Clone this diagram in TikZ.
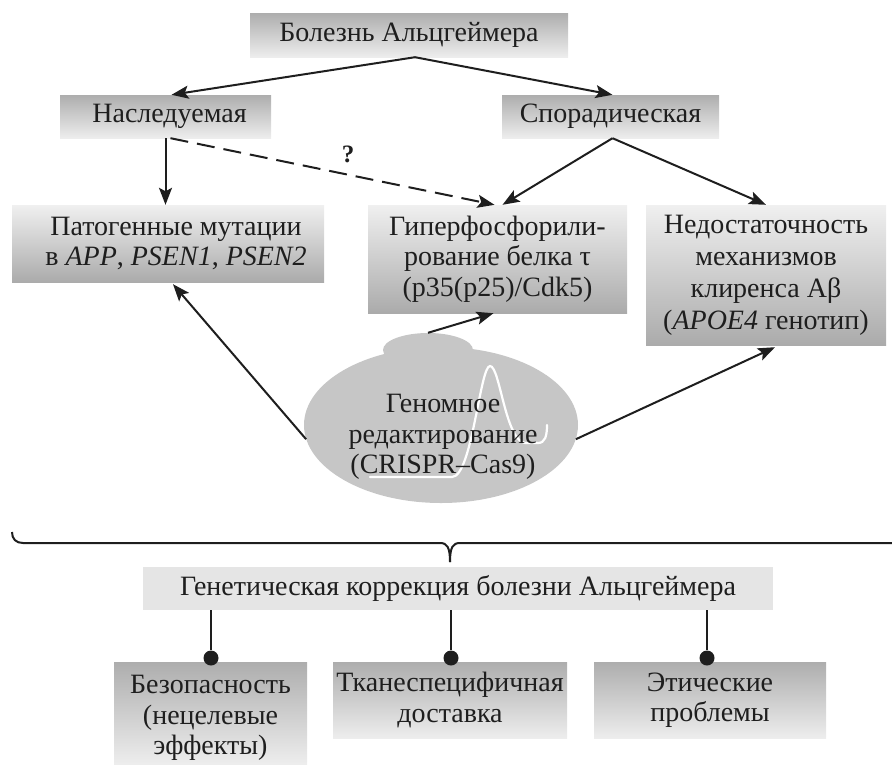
\documentclass[tikz,border=0pt]{standalone}
\usepackage{fontspec}
\setmainfont{Liberation Serif}
\usetikzlibrary{arrows.meta,shapes.geometric}
\definecolor{ink}{HTML}{1E1E1E}
\definecolor{blobc}{HTML}{C6C6C6}
\begin{document}
\begin{tikzpicture}[x=1pt,y=-1pt,
  txt/.style={font=\fontsize{28}{30.5}\selectfont, text=ink, align=center},
  box/.style={txt, rectangle, inner sep=0pt},
  darktop/.style={box, top color=gray!64, bottom color=gray!14},
  darkbot/.style={box, top color=gray!12, bottom color=gray!66},
  flatbox/.style={box, fill=gray!20},
  arr/.style={line width=2pt, draw=ink, -{Stealth[length=17pt,width=13pt,inset=3.5pt]}},
  dasharr/.style={arr, dash pattern=on 18pt off 9pt},
  conn/.style={line width=2pt, draw=ink},
  dot/.style={circle, fill=ink, inner sep=0pt, minimum size=15pt}
]
\useasboundingbox (0,0) rectangle (892,764);

% top level
\node[darktop, minimum width=318pt, minimum height=44pt] (top) at (409,35) {Болезнь Альцгеймера};
\node[darktop, minimum width=211pt, minimum height=43pt] (nasl) at (165.5,116.5) {\hspace*{8pt}Наследуемая};
\node[darktop, minimum width=217pt, minimum height=43pt] (spor) at (610.5,116.5) {Спорадическая};

% second level
\node[darkbot, minimum width=312pt, minimum height=77pt] (pat) at (168,243.5)
  {\hspace*{16pt}Патогенные мутации\\\hspace*{16pt}в \textit{APP}, \textit{PSEN1}, \textit{PSEN2}};
\node[darkbot, minimum width=259pt, minimum height=108pt] (giper) at (497.5,259)
  {Гиперфосфорили-\\рование белка τ\\(p35(p25)/Cdk5)};
\node[darkbot, minimum width=240pt, minimum height=140pt, font=\fontsize{28}{32}\selectfont] (nedost) at (766,275)
  {Недостаточность\\механизмов\\клиренса Aβ\\(\textit{APOE4} генотип)};

% blob
\node[ellipse, fill=blobc, minimum width=90pt, minimum height=34pt, inner sep=0pt] (bump) at (428,350) {};
\node[ellipse, fill=blobc, minimum width=274pt, minimum height=156pt, inner sep=0pt] (blob) at (441,425) {};
\draw[white, line width=2.2pt, line cap=round]
  (370,477) -- (452,477) .. controls (472,477) and (480,366) .. (490,366)
  .. controls (500,366) and (505,440) .. (525,443) -- (538,443)
  .. controls (545,443) and (547,436) .. (547,425);
\node[txt] (blobtxt) at (443,437) {Геномное\\редактирование\\(CRISPR–Cas9)};

% arrows top
\draw[arr] ([xshift=6pt]top.south) -- ([xshift=6pt]nasl.north);
\draw[arr] ([xshift=6pt]top.south) -- ([xshift=2pt]spor.north);
\draw[arr] (nasl.south) -- (nasl.south |- pat.north);
\draw[dasharr] ([xshift=5pt]nasl.south) -- ([xshift=-3pt]giper.north);
\node[font=\fontsize{25}{27}\selectfont\bfseries, text=ink] (q) at (348,154) {?};
\draw[arr] ([xshift=2pt]spor.south) -- ([xshift=5pt]giper.north);
\draw[arr] ([xshift=2pt]spor.south) -- (nedost.north);

% arrows from blob
\draw[arr] (blob.186) -- ([xshift=5pt,yshift=-2pt]pat.south);
\draw[arr] (bump.north) -- ([xshift=-4pt]giper.south);
\draw[arr] (blob.354) -- ([xshift=9pt,yshift=-2pt]nedost.south);

% brace
\coordinate (bracetip) at (450,562);
\draw[conn] (12,532) .. controls (12,539) and (16,543) .. (23,543) -- (440,543)
  .. controls (447,543) and (450,547) .. (bracetip);
\draw[conn] (bracetip) .. controls (450,547) and (453,543) .. (460,543) -- (892,543);

% bottom part
\node[flatbox, minimum width=630pt, minimum height=43pt] (gen) at (458,588.5) {Генетическая коррекция болезни Альцгеймера};
\node[darktop, minimum width=193pt, minimum height=102pt] (bez) at (210.5,713) {};
\node[txt] (bezt) at (210.5,718) {Безопасность\\(нецелевые\\эффекты)};
\node[darktop, minimum width=234pt, minimum height=76pt] (tkan) at (450,700) {Тканеспецифичная\\доставка};
\node[darktop, minimum width=232pt, minimum height=76pt] (etich) at (710,700) {Этические\\проблемы};

\node[dot] (d1) at (211,658) {};
\node[dot] (d2) at (451,658) {};
\node[dot] (d3) at (707,658) {};
\draw[conn] (d1 |- gen.south) -- (d1);
\draw[conn] (d2 |- gen.south) -- (d2);
\draw[conn] (d3 |- gen.south) -- (d3);
\end{tikzpicture}
\end{document}
